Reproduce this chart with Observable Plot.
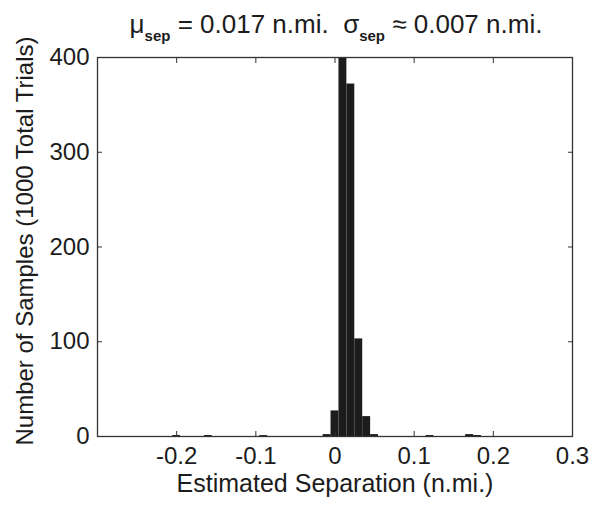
<!DOCTYPE html>
<html>
<head>
<meta charset="utf-8">
<script src="https://cdn.jsdelivr.net/npm/d3@7"></script>
<script src="https://cdn.jsdelivr.net/npm/@observablehq/plot@0.6"></script>
<style>
  body { margin: 0; background: #fff; }
  #chart { width: 608px; height: 505px; }
</style>
</head>
<body>
<div id="chart"></div>
<script>
// Histogram of estimated separation over 1000 Monte Carlo trials (bins 0.01 n.mi. wide)
const binCenters = [-0.20, -0.16, -0.09, -0.01, 0.00, 0.01, 0.02, 0.03, 0.04, 0.05, 0.12, 0.17, 0.18];
const binCounts  = [1, 1, 1, 2, 27, 405, 372, 103, 21, 2, 1, 2, 1];
const xTicks = [-0.2, -0.1, 0, 0.1, 0.2, 0.3];
const yTicks = [0, 100, 200, 300, 400];
const binWidth = 0.01;

const xLabel = "Estimated Separation (n.mi.)";
const yLabel = "Number of Samples (1000 Total Trials)";

const font = "'Liberation Sans', Arial, Helvetica, sans-serif";
const ink = "#1c1c1c";

const bins = binCenters.map((c, i) => ({x1: c - binWidth / 2, x2: c + binWidth / 2, count: binCounts[i]}));
const fmt = d => String(+d.toFixed(1));
const blank = () => "";

const plot = Plot.plot({
  width: 608,
  height: 505,
  marginLeft: 97,
  marginRight: 36,
  marginTop: 57,
  marginBottom: 69,
  style: {fontFamily: font, fontSize: "24px", color: ink, background: "#fff", overflow: "visible"},
  x: {domain: [-0.3, 0.3]},
  y: {domain: [0, 400]},
  marks: [
    Plot.rectY(bins, {x1: "x1", x2: "x2", y: "count", fill: ink, inset: 0, clip: true}),
    Plot.frame({stroke: "#333", strokeWidth: 1.3}),
    // labelled axes
    Plot.axisX({ticks: xTicks, tickSize: 0, tickPadding: 10, tickFormat: fmt, label: null, fontSize: 24}),
    Plot.axisY({ticks: yTicks, tickSize: 0, tickPadding: 8, label: null, fontSize: 24}),
    // inward tick marks on all four sides
    Plot.axisX({ticks: xTicks, anchor: "bottom", tickSize: -5, tickFormat: blank, label: null, stroke: "#333"}),
    Plot.axisX({ticks: xTicks, anchor: "top", tickSize: -5, tickFormat: blank, label: null, stroke: "#333"}),
    Plot.axisY({ticks: yTicks, anchor: "left", tickSize: -5, tickFormat: blank, label: null, stroke: "#333"}),
    Plot.axisY({ticks: yTicks, anchor: "right", tickSize: -5, tickFormat: blank, label: null, stroke: "#333"}),
    // axis titles
    Plot.text([xLabel], {text: d => d, frameAnchor: "bottom", lineAnchor: "middle", dy: 47, fontSize: 25, fill: ink}),
    Plot.text([yLabel], {text: d => d, frameAnchor: "left", textAnchor: "middle", dx: -72, dy: -6, rotate: -90, fontSize: 24, fill: ink})
  ]
});

document.getElementById("chart").appendChild(plot);

// title with subscripts
const svg = d3.select(plot);
const title = svg.append("text")
  .attr("x", 336)
  .attr("y", 33)
  .attr("text-anchor", "middle")
  .attr("font-family", font)
  .attr("font-size", 26)
  .attr("fill", ink);
title.append("tspan").text("μ");
title.append("tspan").attr("dy", 8).attr("font-size", 15).attr("font-weight", "bold").text("sep");
title.append("tspan").attr("dy", -8).text(" = 0.017 n.mi.  σ");
title.append("tspan").attr("dy", 8).attr("font-size", 15).attr("font-weight", "bold").text("sep");
title.append("tspan").attr("dy", -8).text(" ≈ 0.007 n.mi.");
</script>
</body>
</html>
